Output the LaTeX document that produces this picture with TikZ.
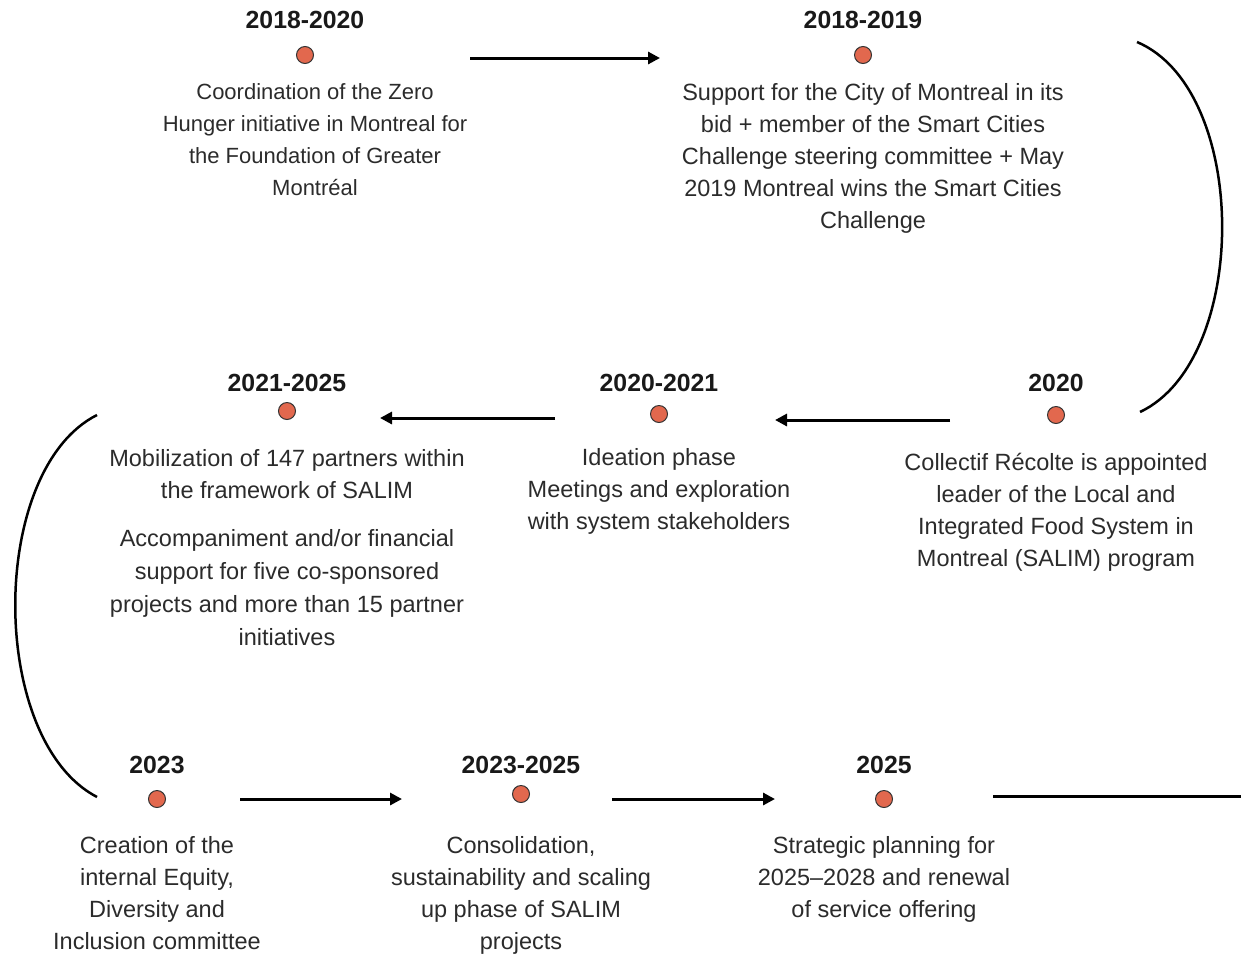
\documentclass[tikz,border=0pt]{standalone}
\usepackage{fontspec}
\setmainfont{Liberation Sans}
\usepackage{xcolor}
\usetikzlibrary{arrows.meta, positioning}
\definecolor{dotred}{HTML}{E2684E}
\definecolor{inkgray}{HTML}{2B2B2B}

\begin{document}
\begin{tikzpicture}[x=1pt, y=-1pt,
  year/.style={font=\bfseries\fontsize{24.8}{28}\selectfont, inner sep=0pt, text=black!90},
  dot/.style={circle, fill=dotred, draw=black!80, line width=1pt, minimum size=17pt, inner sep=0pt},
  desc/.style={font=\fontsize{23.5}{32}\selectfont, align=center, anchor=north, inner sep=0pt, text=inkgray},
  arr/.style={line width=3pt, -{Triangle[length=12pt,width=12pt]}},
  loopline/.style={line width=2.5pt}]
\useasboundingbox (0,0) rectangle (1241,954);
% years and dots
\foreach \n/\x/\y/\dy/\yr in {
    a/305/20/55/2018-2020,
    b/863/20/55/2018-2019,
    c/1056/383/415/2020,
    d/659/383/414/2020-2021,
    e/287/383/411/2021-2025,
    f/157/765/799/2023,
    g/521/765/794/2023-2025,
    h/884/765/799/2025} {
    \node[year] (y\n) at (\x,\y) {\yr};
    \node[dot] (d\n) at (\x,\dy) {};
}
% texts
\node[desc, font=\fontsize{22}{32}\selectfont] (ta) at (315,83) {Coordination of the Zero\\Hunger initiative in Montreal for\\the Foundation of Greater\\Montréal};
\node[desc] (tb) at (873,83) {Support for the City of Montreal in its\\bid + member of the Smart Cities\\Challenge steering committee + May\\2019 Montreal wins the Smart Cities\\Challenge};
\node[desc] (tc) at (1056,453) {Collectif Récolte is appointed\\leader of the Local and\\Integrated Food System in\\Montreal (SALIM) program};
\node[desc] (td) at (659,448) {Ideation phase\\Meetings and exploration\\with system stakeholders};
\node[desc] (te) at (287,449) {Mobilization of 147 partners within\\the framework of SALIM};
\node[desc, font=\fontsize{23.5}{33}\selectfont] (tf) at (287,529) {Accompaniment and/or financial\\support for five co-sponsored\\projects and more than 15 partner\\initiatives};
\node[desc] (tg) at (157,836) {Creation of the\\internal Equity,\\Diversity and\\Inclusion committee};
\node[desc] (th) at (521,836) {Consolidation,\\sustainability and scaling\\up phase of SALIM\\projects};
\node[desc] (ti) at (884,836) {Strategic planning for\\2025–2028 and renewal\\of service offering};
% connectors
\coordinate (ab1) at (470,58);  \coordinate (ab2) at (660,58);
\coordinate (bc1) at (1137,42); \coordinate (bc2) at (1140,412);
\coordinate (cd1) at (950,420); \coordinate (cd2) at (775,420);
\coordinate (de1) at (555,418); \coordinate (de2) at (380,418);
\coordinate (ef1) at (97,415);  \coordinate (ef2) at (97,797);
\coordinate (fg1) at (240,799); \coordinate (fg2) at (402,799);
\coordinate (gh1) at (612,799); \coordinate (gh2) at (775,799);
\coordinate (hx1) at (993,796); \coordinate (hx2) at (1241,796);
\draw[arr] (ab1) -- (ab2);
\draw[loopline] (bc1) .. controls (1250,90) and (1250,360) .. (bc2);
\draw[arr] (cd1) -- (cd2);
\draw[arr] (de1) -- (de2);
\draw[loopline] (ef1) .. controls (-12,470) and (-12,740) .. (ef2);
\draw[arr] (fg1) -- (fg2);
\draw[arr] (gh1) -- (gh2);
\draw[line width=3pt] (hx1) -- (hx2);
\end{tikzpicture}
\end{document}
